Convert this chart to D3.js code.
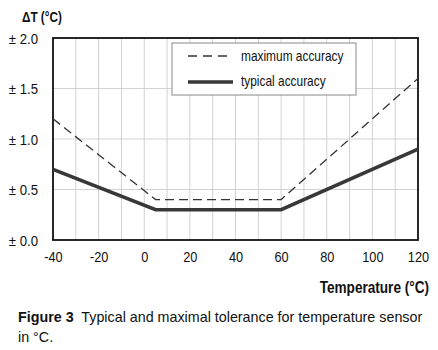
<!DOCTYPE html>
<html><head><meta charset="utf-8">
<script src="https://cdn.jsdelivr.net/npm/d3@7"></script>
<style>body{margin:0;background:#fff}svg{display:block}text{font-family:"Liberation Sans",Arial,sans-serif;fill:#111}</style>
</head><body><svg id="c" width="438" height="350"></svg>
<script>
const temps = [-40, 5, 60, 120];
const maxAccuracy = [1.2, 0.4, 0.4, 1.6];
const typicalAccuracy = [0.7, 0.3, 0.3, 0.9];
const xTicks = [-40, -20, 0, 20, 40, 60, 80, 100, 120];
const yTicks = [0, 0.5, 1.0, 1.5, 2.0];
const seriesNames = ["maximum accuracy", "typical accuracy"];

const svg = d3.select("#c");
const L = 53, R = 418, T = 38, B = 240;
const x = d3.scaleLinear().domain([-40, 120]).range([L, R]);
const y = d3.scaleLinear().domain([0, 2]).range([B, T]);

// condense text horizontally (narrow typeface look)
function narrow(sel, sx) {
  sel.each(function () {
    const t = d3.select(this);
    const x0 = +t.attr("x") || 0;
    t.attr("x", x0 / sx).attr("transform", `scale(${sx},1)`);
  });
}
function label(px, py, str, size, sx, opts = {}) {
  const g = svg.append("g").attr("transform", `translate(${px},${py}) scale(${sx},1)`);
  return g.append("text").attr("font-size", size)
    .attr("font-weight", opts.bold ? "bold" : null)
    .attr("text-anchor", opts.anchor || "start").text(str);
}

// grid
svg.append("g").selectAll("line").data(d3.range(-30, 120, 10)).join("line")
  .attr("x1", d => x(d)).attr("x2", d => x(d)).attr("y1", T).attr("y2", B)
  .attr("stroke", "#d2d2d2").attr("stroke-width", 1);
svg.append("g").selectAll("line").data([0.5, 1.0, 1.5]).join("line")
  .attr("x1", L).attr("x2", R).attr("y1", d => y(d)).attr("y2", d => y(d))
  .attr("stroke", "#d2d2d2").attr("stroke-width", 1);

// axes
const xa = svg.append("g").attr("transform", `translate(0,${B})`)
  .call(d3.axisBottom(x).tickValues(xTicks).tickSize(0).tickPadding(12).tickFormat(d => String(d)));
xa.select(".domain").remove();
xa.selectAll("text").attr("font-size", 14.5).attr("fill", "#111").call(narrow, 0.88);
const ya = svg.append("g").attr("transform", `translate(${L},0)`)
  .call(d3.axisLeft(y).tickValues(yTicks).tickSize(0).tickPadding(15).tickFormat(d => "\u00b1 " + d3.format(".1f")(d)));
ya.select(".domain").remove();
ya.selectAll("text").attr("font-size", 14.5).attr("fill", "#111").attr("dy", "0.36em").call(narrow, 0.91);

// frame
svg.append("rect").attr("x", L).attr("y", T).attr("width", R - L).attr("height", B - T)
  .attr("fill", "none").attr("stroke", "#111").attr("stroke-width", 1.8);

const line = d3.line().x(d => x(d[0])).y(d => y(d[1]));
svg.append("path").datum(temps.map((t, i) => [t, maxAccuracy[i]])).attr("d", line)
  .attr("fill", "none").attr("stroke", "#333").attr("stroke-width", 1.3).attr("stroke-dasharray", "9,5");
svg.append("path").datum(temps.map((t, i) => [t, typicalAccuracy[i]])).attr("d", line)
  .attr("fill", "none").attr("stroke", "#383838").attr("stroke-width", 3.6);

// legend
const lg = svg.append("g");
lg.append("rect").attr("x", 172).attr("y", 43).attr("width", 184).attr("height", 52)
  .attr("fill", "#fff").attr("stroke", "#888").attr("stroke-width", 1);
lg.append("line").attr("x1", 188).attr("x2", 233).attr("y1", 56).attr("y2", 56)
  .attr("stroke", "#333").attr("stroke-width", 1.3).attr("stroke-dasharray", "9,6");
lg.append("line").attr("x1", 188).attr("x2", 233).attr("y1", 82).attr("y2", 82)
  .attr("stroke", "#383838").attr("stroke-width", 3.6);
seriesNames.forEach((d, i) => label(241, 61 + i * 25, d, 14, 0.85));

// titles
label(22, 22, "\u0394T (\u00b0C)", 14, 0.84, { bold: true });
label(429, 293, "Temperature (\u00b0C)", 16, 0.85, { bold: true, anchor: "end" });
const cap = svg.append("text").attr("x", 18).attr("y", 322).attr("font-size", 14.3);
cap.append("tspan").attr("font-weight", "bold").text("Figure 3");
cap.append("tspan").text("\u00a0 Typical and maximal tolerance for temperature sensor");
svg.append("text").attr("x", 18).attr("y", 342).attr("font-size", 14.3).text("in \u00b0C.");
</script></body></html>
